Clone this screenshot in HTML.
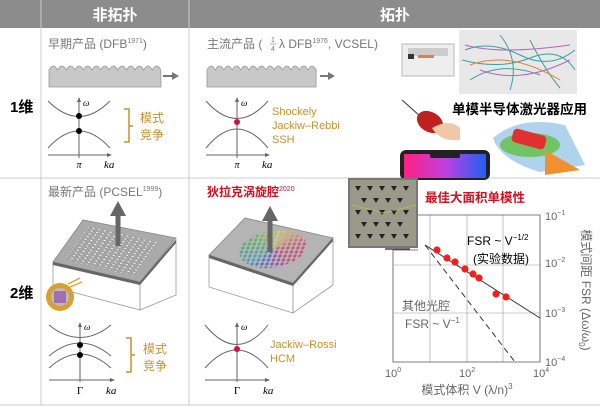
<!DOCTYPE html>
<html><head><meta charset="utf-8"><style>
body{margin:0;width:600px;height:407px;overflow:hidden;background:#fff;font-family:"Liberation Sans","Noto Sans CJK SC",sans-serif;position:relative}
svg{position:absolute;left:0;top:0}
.dots{position:absolute;border-radius:50%;background:conic-gradient(from 0deg,#e0e040,#f0a040,#e04060,#d03080,#8040c0,#3060d0,#30a0c0,#40b060,#80c040,#e0e040);opacity:0.85;
-webkit-mask-image:radial-gradient(circle,#000 1.3px,transparent 1.8px);-webkit-mask-size:5px 4px;mask-image:radial-gradient(circle,#000 1.3px,transparent 1.8px);mask-size:5px 4px}
</style></head><body>
<svg width="600" height="407" viewBox="0 0 600 407" font-family="Liberation Sans, Noto Sans CJK SC, sans-serif">
<defs>
<pattern id="holes" width="6.5" height="6.5" patternUnits="userSpaceOnUse"><circle cx="3.25" cy="3.25" r="2" fill="#eee" stroke="#777" stroke-width="0.8"/></pattern>
<linearGradient id="ph" x1="0" y1="0" x2="1" y2="0"><stop offset="0" stop-color="#ff2080"/><stop offset="0.5" stop-color="#c040e0"/><stop offset="1" stop-color="#2060f0"/></linearGradient>
</defs>
<!-- header -->
<rect x="0" y="0" width="600" height="28" fill="#8c8c8c"/>
<line x1="41" y1="0" x2="41" y2="405" stroke="#ccc"/>
<line x1="189" y1="0" x2="189" y2="405" stroke="#ccc"/>
<text x="115" y="20" font-size="15" font-weight="bold" fill="#fff" text-anchor="middle">非拓扑</text>
<text x="395" y="20" font-size="15" font-weight="bold" fill="#fff" text-anchor="middle">拓扑</text>
<line x1="0" y1="178" x2="600" y2="178" stroke="#ccc"/>
<line x1="0" y1="405" x2="600" y2="405" stroke="#ccc"/>
<text x="10" y="112" font-size="15" font-weight="bold">1维</text>
<text x="10" y="298" font-size="15" font-weight="bold">2维</text>

<!-- row1 left -->
<text x="48" y="48" font-size="12" fill="#777">早期产品 (DFB<tspan font-size="7" dy="-5">1971</tspan><tspan dy="5">)</tspan></text>
<path d="M49,87 L49,70 q4.3,-8 8.6,0 q4.3,-8 8.6,0 q4.3,-8 8.6,0 q4.3,-8 8.6,0 q4.3,-8 8.6,0 q4.3,-8 8.6,0 q4.3,-8 8.6,0 q4.3,-8 8.6,0 q4.3,-8 8.6,0 q4.3,-8 8.6,0 q4.3,-8 8.6,0 q4.3,-8 8.6,0 q4.3,-8 8.6,0 L161,87 Z" fill="#c8c8c8" stroke="#999" stroke-width="0.8"/>
<line x1="163" y1="76" x2="173" y2="76" stroke="#777" stroke-width="2"/><polygon points="172,72 179,76 172,80" fill="#777"/>
<g stroke="#666" fill="none" stroke-width="1">
<line x1="79" y1="158" x2="79" y2="99"/><line x1="48" y1="155" x2="110" y2="155"/>
<path d="M48,101 Q79,132 110,101"/><path d="M48,148 Q79,114 110,148"/>
<line x1="237" y1="158" x2="237" y2="99"/><line x1="206" y1="155" x2="268" y2="155"/>
<path d="M206,101 Q237,136 268,101"/><path d="M206,148 Q237,110 268,148"/>
</g>
<polygon points="79,97 77,102 81,102" fill="#666"/><polygon points="112,155 107,153 107,157" fill="#666"/>
<polygon points="237,97 235,102 239,102" fill="#666"/><polygon points="270,155 265,153 265,157" fill="#666"/>
<circle cx="79" cy="116" r="3" fill="#000"/><circle cx="79" cy="131" r="3" fill="#000"/>
<circle cx="237" cy="122" r="3" fill="#d0104a"/>
<text x="83" y="106" font-size="9" font-style="italic" font-family="Liberation Serif,serif">ω</text>
<text x="241" y="106" font-size="9" font-style="italic" font-family="Liberation Serif,serif">ω</text>
<text x="79" y="168" font-size="10" font-style="italic" text-anchor="middle" font-family="Liberation Serif,serif">π</text>
<text x="104" y="168" font-size="11" font-style="italic" font-family="Liberation Serif,serif">ka</text>
<text x="237" y="168" font-size="10" font-style="italic" text-anchor="middle" font-family="Liberation Serif,serif">π</text>
<text x="262" y="168" font-size="11" font-style="italic" font-family="Liberation Serif,serif">ka</text>
<path d="M124,109 H129 V142 H124 M129,126 H133" stroke="#c8922a" fill="none" stroke-width="1.5"/>
<text x="140" y="122" font-size="12" fill="#c8922a">模式</text>
<text x="140" y="139" font-size="12" fill="#c8922a">竞争</text>

<!-- row1 middle -->
<text x="207" y="48" font-size="12" fill="#777">主流产品 (</text>
<text x="273" y="42" font-size="7" fill="#777" text-anchor="middle">1</text>
<line x1="270" y1="44" x2="276" y2="44" stroke="#777" stroke-width="0.6"/>
<text x="273" y="51" font-size="7" fill="#777" text-anchor="middle">4</text>
<text x="279" y="48" font-size="12" fill="#777">λ DFB<tspan font-size="7" dy="-5">1976</tspan><tspan dy="5">, VCSEL)</tspan></text>
<path d="M207,87 L207,70 q4.2,-8 8.4,0 q4.2,-8 8.4,0 q4.2,-8 8.4,0 q4.2,-8 8.4,0 q4.2,-8 8.4,0 q4.2,-8 8.4,0 q4.2,-8 8.4,0 q4.2,-8 8.4,0 q4.2,-8 8.4,0 q4.2,-8 8.4,0 q4.2,-8 8.4,0 q4.2,-8 8.4,0 q4.2,-8 8.4,0 L316,87 Z" fill="#c8c8c8" stroke="#999" stroke-width="0.8"/>
<line x1="320" y1="76" x2="329" y2="76" stroke="#777" stroke-width="2"/><polygon points="328,72 335,76 328,80" fill="#777"/>
<text x="272" y="115" font-size="11" fill="#c8922a">Shockely</text>
<text x="272" y="129" font-size="11" fill="#c8922a">Jackiw–Rebbi</text>
<text x="272" y="143" font-size="11" fill="#c8922a">SSH</text>

<!-- row1 right images -->
<rect x="402" y="44" width="52" height="32" fill="#eee" stroke="#bbb"/><rect x="408" y="48" width="40" height="8" fill="#ccc"/><rect x="408" y="54" width="6" height="5" fill="#333"/><rect x="418" y="55" width="16" height="3" fill="#e08040"/>
<rect x="459" y="30" width="118" height="64" fill="#e8e8e8"/>
<path d="M465,50 Q490,40 520,55 T575,50 M462,60 Q500,70 530,58 T575,70 M470,80 Q500,60 540,75 M500,35 Q520,60 510,90 M530,40 Q545,70 560,88" stroke="#3aa0a0" fill="none" stroke-width="1"/>
<path d="M465,45 Q500,55 570,45 M480,70 Q520,85 570,60" stroke="#c060c0" fill="none" stroke-width="1"/>
<path d="M470,65 Q510,50 560,80" stroke="#e08030" fill="none" stroke-width="1"/>
<text x="452" y="114" font-size="13.5" font-weight="bold">单模半导体激光器应用</text>
<line x1="402" y1="100" x2="420" y2="116" stroke="#333"/>
<ellipse cx="430" cy="122" rx="14" ry="10" fill="#c02020" transform="rotate(30 430 122)"/>
<path d="M432,128 Q450,118 460,128 L460,140 Q440,142 432,128Z" fill="#f0c8a8"/>
<path d="M493,138 Q520,115 565,125 L585,165 L540,172 Q500,160 493,138Z" fill="#9cc8e8" opacity="0.8"/>
<ellipse cx="530" cy="145" rx="30" ry="12" fill="#60c040" opacity="0.8"/>
<path d="M545,150 L580,170 L545,175Z" fill="#f09030"/>
<rect x="512" y="132" width="34" height="14" rx="4" fill="#e03030" transform="rotate(15 529 139)"/>
<rect x="400" y="150" width="90" height="30" rx="6" fill="#222"/>
<rect x="404" y="154" width="82" height="24" fill="url(#ph)"/>
<rect x="430" y="153" width="30" height="5" rx="2" fill="#222"/>

<!-- row2 left -->
<text x="48" y="196" font-size="12" fill="#777">最新产品 (PCSEL<tspan font-size="7" dy="-5">1999</tspan><tspan dy="5">)</tspan></text>
<polygon points="53,262 140,282 140,310 53,287" fill="#fff" stroke="#999" stroke-width="0.8"/>
<polygon points="140,282 176,240 176,295 140,310" fill="#fff" stroke="#999" stroke-width="0.8"/>
<polygon points="53,262 83,220 176,238 140,282" fill="#aaa" stroke="#888" stroke-width="0.8"/>
<polygon points="53,262 140,282 176,240 176,243 140,285 53,265" fill="#666"/>
<g transform="matrix(0.87,0.2,0.3,-0.42,53,262)"><rect x="10" y="10" width="80" height="80" fill="url(#holes)"/></g>
<line x1="118" y1="246" x2="118" y2="215" stroke="#666" stroke-width="5"/><polygon points="110,216 118,201 126,216" fill="#666"/>
<circle cx="60" cy="297" r="14" fill="#d8a030"/><circle cx="60" cy="297" r="9" fill="#bbb"/><rect x="54" y="291" width="12" height="12" fill="#a070b0"/>
<line x1="68" y1="284" x2="80" y2="278" stroke="#d8a030" stroke-width="1.3"/><line x1="70" y1="287" x2="82" y2="282" stroke="#d8a030" stroke-width="1.3"/>
<g stroke="#666" fill="none" stroke-width="1">
<line x1="80" y1="382" x2="80" y2="324"/><line x1="49" y1="380" x2="113" y2="380"/>
<path d="M49,325 Q80,350 111,325"/><path d="M49,356 Q80,330 111,356"/><path d="M49,368 Q80,340 111,368"/>
<line x1="237" y1="382" x2="237" y2="324"/><line x1="205" y1="380" x2="268" y2="380"/>
<path d="M205,325 Q237,364 268,325"/><path d="M205,368 Q237,332 268,368"/>
</g>
<polygon points="80,322 78,327 82,327" fill="#666"/><polygon points="115,380 110,378 110,382" fill="#666"/>
<polygon points="237,322 235,327 239,327" fill="#666"/><polygon points="270,380 265,378 265,382" fill="#666"/>
<circle cx="80" cy="345" r="3" fill="#000"/><circle cx="80" cy="355" r="3" fill="#000"/>
<circle cx="237" cy="349" r="3" fill="#d0104a"/>
<text x="84" y="330" font-size="9" font-style="italic" font-family="Liberation Serif,serif">ω</text>
<text x="241" y="330" font-size="9" font-style="italic" font-family="Liberation Serif,serif">ω</text>
<text x="80" y="394" font-size="11" text-anchor="middle" font-family="Liberation Serif,serif">Γ</text>
<text x="106" y="394" font-size="11" font-style="italic" font-family="Liberation Serif,serif">ka</text>
<text x="237" y="394" font-size="11" text-anchor="middle" font-family="Liberation Serif,serif">Γ</text>
<text x="263" y="394" font-size="11" font-style="italic" font-family="Liberation Serif,serif">ka</text>
<path d="M126,338 H131 V372 H126 M131,355 H135" stroke="#c8922a" fill="none" stroke-width="1.5"/>
<text x="143" y="353" font-size="12" fill="#c8922a">模式</text>
<text x="143" y="370" font-size="12" fill="#c8922a">竞争</text>

<!-- row2 middle -->
<text x="207" y="196" font-size="12" font-weight="bold" fill="#d01020">狄拉克涡旋腔<tspan font-size="7" font-weight="normal" dy="-5">2020</tspan></text>
<polygon points="209,255 293,283 293,313 209,287" fill="#fff" stroke="#999" stroke-width="0.8"/>
<polygon points="293,283 333,238 333,285 293,313" fill="#fff" stroke="#999" stroke-width="0.8"/>
<polygon points="209,255 245,218 333,238 293,283" fill="#b4b4b4" stroke="#888" stroke-width="0.8"/>
<polygon points="209,255 293,283 333,238 333,241 293,286 209,258" fill="#666"/>
<text x="270" y="348" font-size="11" fill="#c8922a">Jackiw–Rossi</text>
<text x="270" y="362" font-size="11" fill="#c8922a">HCM</text>

<!-- row2 right plot -->
<rect x="348" y="178" width="70" height="70" fill="#777"/>
<rect x="350" y="180" width="66" height="66" fill="#9a9a8a"/>
<g fill="#222">
<polygon points="355,186 361,186 358,191"/><polygon points="367,186 373,186 370,191"/><polygon points="379,186 385,186 382,191"/><polygon points="391,186 397,186 394,191"/><polygon points="403,186 409,186 406,191"/>
<polygon points="361,198 367,198 364,203"/><polygon points="373,198 379,198 376,203"/><polygon points="385,198 391,198 388,203"/><polygon points="397,198 403,198 400,203"/>
<polygon points="355,210 361,210 358,215"/><polygon points="367,210 373,210 370,215"/><polygon points="379,210 385,210 382,215"/><polygon points="391,210 397,210 394,215"/><polygon points="403,210 409,210 406,215"/>
<polygon points="361,222 367,222 364,227"/><polygon points="373,222 379,222 376,227"/><polygon points="385,222 391,222 388,227"/><polygon points="397,222 403,222 400,227"/>
<polygon points="355,234 361,234 358,239"/><polygon points="367,234 373,234 370,239"/><polygon points="379,234 385,234 382,239"/><polygon points="391,234 397,234 394,239"/><polygon points="403,234 409,234 406,239"/>
</g>
<line x1="384" y1="213" x2="416" y2="205" stroke="#cc4" stroke-width="0.6"/><line x1="384" y1="213" x2="352" y2="205" stroke="#cc4" stroke-width="0.6"/>
<line x1="385" y1="249" x2="410" y2="249" stroke="#222" stroke-width="1.2"/>
<text x="425" y="202" font-size="12.5" font-weight="bold" fill="#d01020">最佳大面积单模性</text>
<g stroke="#999" stroke-width="0.6"><line x1="393" y1="265" x2="540" y2="265"/><line x1="393" y1="313" x2="540" y2="313"/><line x1="430" y1="215" x2="430" y2="362"/><line x1="467" y1="215" x2="467" y2="362"/><line x1="503" y1="215" x2="503" y2="362"/></g>
<polyline points="418,250 393,250 393,362 540,362 540,215 418,215" fill="none" stroke="#555" stroke-width="0.8"/>
<line x1="425" y1="245" x2="540" y2="318" stroke="#333" stroke-width="1"/>
<line x1="425" y1="245" x2="515" y2="362" stroke="#333" stroke-width="1" stroke-dasharray="6,4"/>
<g fill="#f02020"><circle cx="437" cy="250" r="3.6"/><circle cx="447" cy="258" r="3.6"/><circle cx="455" cy="262" r="3.6"/><circle cx="465" cy="269" r="3.6"/><circle cx="473" cy="274" r="3.6"/><circle cx="479" cy="278" r="3.6"/><circle cx="496" cy="294" r="3.6"/><circle cx="506" cy="297" r="3.6"/></g>
<text x="467" y="245" font-size="12">FSR ~ V<tspan font-size="8" dy="-5">−1/2</tspan></text>
<text x="473" y="263" font-size="12">(实验数据)</text>
<text x="402" y="310" font-size="12" fill="#666">其他光腔</text>
<text x="405" y="328" font-size="12" fill="#666">FSR ~ V<tspan font-size="8" dy="-5">−1</tspan></text>
<g font-size="11" fill="#666">
<text x="545" y="220">10<tspan font-size="7" dy="-5">−1</tspan></text>
<text x="545" y="267">10<tspan font-size="7" dy="-5">−2</tspan></text>
<text x="545" y="317">10<tspan font-size="7" dy="-5">−3</tspan></text>
<text x="545" y="366">10<tspan font-size="7" dy="-5">−4</tspan></text>
<text x="385" y="377">10<tspan font-size="7" dy="-5">0</tspan></text>
<text x="459" y="377">10<tspan font-size="7" dy="-5">2</tspan></text>
<text x="533" y="377">10<tspan font-size="7" dy="-5">4</tspan></text>
</g>
<text x="467" y="394" font-size="12" fill="#666" text-anchor="middle">模式体积 V (λ/n)<tspan font-size="8" dy="-5">3</tspan></text>
<text transform="translate(582,290) rotate(90)" font-size="12" fill="#666" text-anchor="middle">模式间距 FSR (Δω/ω<tspan font-size="8" dy="3">0</tspan><tspan dy="-3">)</tspan></text>
</svg>
<div class="dots" style="left:240px;top:230px;width:66px;height:38px;transform:skewX(-20deg)"></div>
<svg width="600" height="407" viewBox="0 0 600 407" style="pointer-events:none">
<line x1="270" y1="252" x2="270" y2="220" stroke="#666" stroke-width="5"/><polygon points="262,221 270,206 278,221" fill="#666"/>
</svg>
</body></html>
